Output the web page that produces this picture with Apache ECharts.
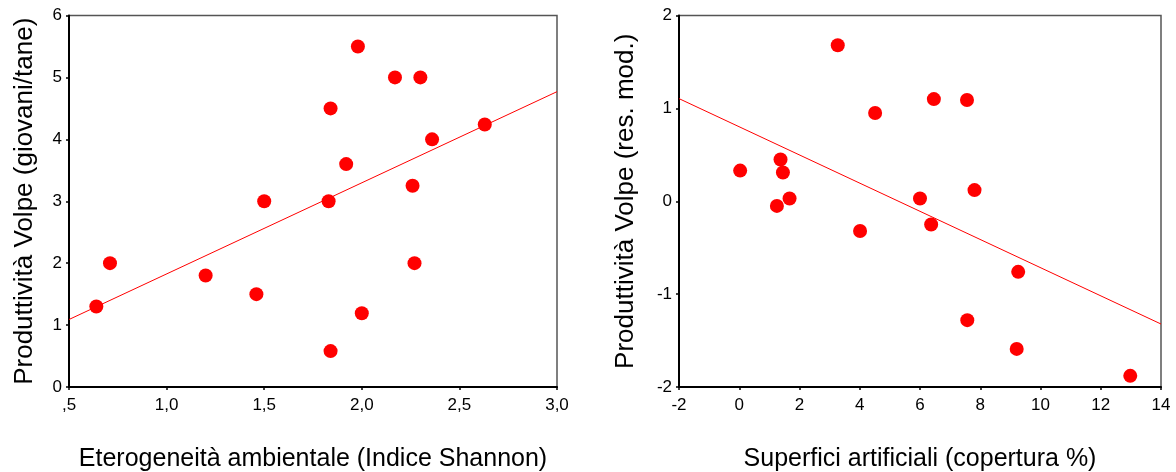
<!DOCTYPE html>
<html>
<head>
<meta charset="utf-8">
<script src="https://cdn.jsdelivr.net/npm/echarts@6/dist/echarts.min.js"></script>
<style>
html,body{margin:0;padding:0;background:#fff;}
#c{width:1176px;height:472px;}
</style>
</head>
<body>
<div id="c"></div>
<script>
// Left panel: Eterogeneità ambientale vs Produttività
const leftX = [0.64, 0.71, 1.20, 1.46, 1.50, 1.84, 1.83, 1.92, 1.98, 2.17, 2.30, 2.36, 2.26, 2.63, 2.27, 2.00, 1.84];
const leftY = [1.30, 2.00, 1.80, 1.50, 3.00, 4.50, 3.00, 3.60, 5.50, 5.00, 5.00, 4.00, 3.25, 4.24, 2.00, 1.19, 0.58];
const leftFitX = [0.5, 3.0];
const leftFitY = [1.09, 4.77];
const leftXTicks = [',5', '1,0', '1,5', '2,0', '2,5', '3,0'];
const leftYTicks = ['0', '1', '2', '3', '4', '5', '6'];

// Right panel: Superfici artificiali vs residui
const rightX = [0.03, 1.37, 1.45, 1.67, 1.25, 3.27, 4.51, 4.01, 6.46, 7.56, 7.81, 6.00, 6.37, 9.26, 7.57, 9.21, 12.98];
const rightY = [0.33, 0.45, 0.31, 0.03, -0.05, 1.68, 0.95, -0.32, 1.10, 1.09, 0.12, 0.03, -0.25, -0.76, -1.28, -1.59, -1.88];
const rightFitX = [-2, 14];
const rightFitY = [1.105, -1.322];
const rightXTicks = ['-2', '0', '2', '4', '6', '8', '10', '12', '14'];
const rightYTicks = ['-2', '-1', '0', '1', '2'];

const titles = {
  leftX: 'Eterogeneità ambientale (Indice Shannon)',
  leftY: 'Produttività Volpe (giovani/tane)',
  rightX: 'Superfici artificiali (copertura %)',
  rightY: 'Produttività Volpe (res. mod.)'
};

const FONT = 'Liberation Sans, Arial, sans-serif';
const chart = echarts.init(document.getElementById('c'), null, {renderer: 'canvas'});

function pairs(xs, ys) { return xs.map((x, i) => [x, ys[i]]); }

function xAxisCfg(idx, min, max, interval, labels, name) {
  return {
    type: 'value', gridIndex: idx, min: min, max: max, interval: interval,
    name: name, nameLocation: 'middle', nameGap: 60,
    nameTextStyle: {fontFamily: FONT, fontSize: 25, color: '#000'},
    axisLine: {show: true, onZero: false, lineStyle: {color: '#000', width: 2}},
    axisTick: {show: true, inside: false, length: 3, lineStyle: {color: '#000', width: 1.5}},
    axisLabel: {show: true, margin: 10, fontFamily: FONT, fontSize: 17, color: '#000',
      formatter: function (v) {
        const i = Math.round((v - min) / interval);
        return labels[i] !== undefined ? labels[i] : '';
      }},
    splitLine: {show: false}
  };
}
function yAxisCfg(idx, min, max, interval, labels, name, gap) {
  return {
    type: 'value', gridIndex: idx, min: min, max: max, interval: interval,
    name: name, nameLocation: 'middle', nameGap: gap,
    nameTextStyle: {fontFamily: FONT, fontSize: 26, color: '#000'},
    axisLine: {show: true, onZero: false, lineStyle: {color: '#000', width: 2}},
    axisTick: {show: true, inside: false, length: 3, lineStyle: {color: '#000', width: 1.5}},
    axisLabel: {show: true, margin: 7, fontFamily: FONT, fontSize: 17, color: '#000',
      formatter: function (v) {
        const i = Math.round((v - min) / interval);
        return labels[i] !== undefined ? labels[i] : '';
      }},
    splitLine: {show: false}
  };
}

const option = {
  backgroundColor: '#fff',
  animation: false,
  grid: [
    {left: 69, top: 15.5, right: 619, bottom: 85, outerBoundsMode: 'none', containLabel: false,
      show: true, borderColor: '#555', borderWidth: 1.5, backgroundColor: 'transparent'},
    {left: 679, top: 15.5, right: 15, bottom: 85, outerBoundsMode: 'none', containLabel: false,
      show: true, borderColor: '#555', borderWidth: 1.5, backgroundColor: 'transparent'}
  ],
  xAxis: [
    xAxisCfg(0, 0.5, 3.0, 0.5, leftXTicks, titles.leftX),
    xAxisCfg(1, -2, 14, 2, rightXTicks, titles.rightX)
  ],
  yAxis: [
    yAxisCfg(0, 0, 6, 1, leftYTicks, titles.leftY, 31),
    yAxisCfg(1, -2, 2, 1, rightYTicks, titles.rightY, 40)
  ],
  series: [
    {type: 'line', xAxisIndex: 0, yAxisIndex: 0, data: pairs(leftFitX, leftFitY),
      showSymbol: false, symbol: 'none', lineStyle: {color: '#ff0000', width: 1}, silent: true, z: 2},
    {type: 'scatter', xAxisIndex: 0, yAxisIndex: 0, data: pairs(leftX, leftY),
      symbol: 'circle', symbolSize: 14, itemStyle: {color: '#ff0000', opacity: 1}, z: 3},
    {type: 'line', xAxisIndex: 1, yAxisIndex: 1, data: pairs(rightFitX, rightFitY),
      showSymbol: false, symbol: 'none', lineStyle: {color: '#ff0000', width: 1}, silent: true, z: 2},
    {type: 'scatter', xAxisIndex: 1, yAxisIndex: 1, data: pairs(rightX, rightY),
      symbol: 'circle', symbolSize: 14, itemStyle: {color: '#ff0000', opacity: 1}, z: 3}
  ]
};
chart.setOption(option);
</script>
</body>
</html>
